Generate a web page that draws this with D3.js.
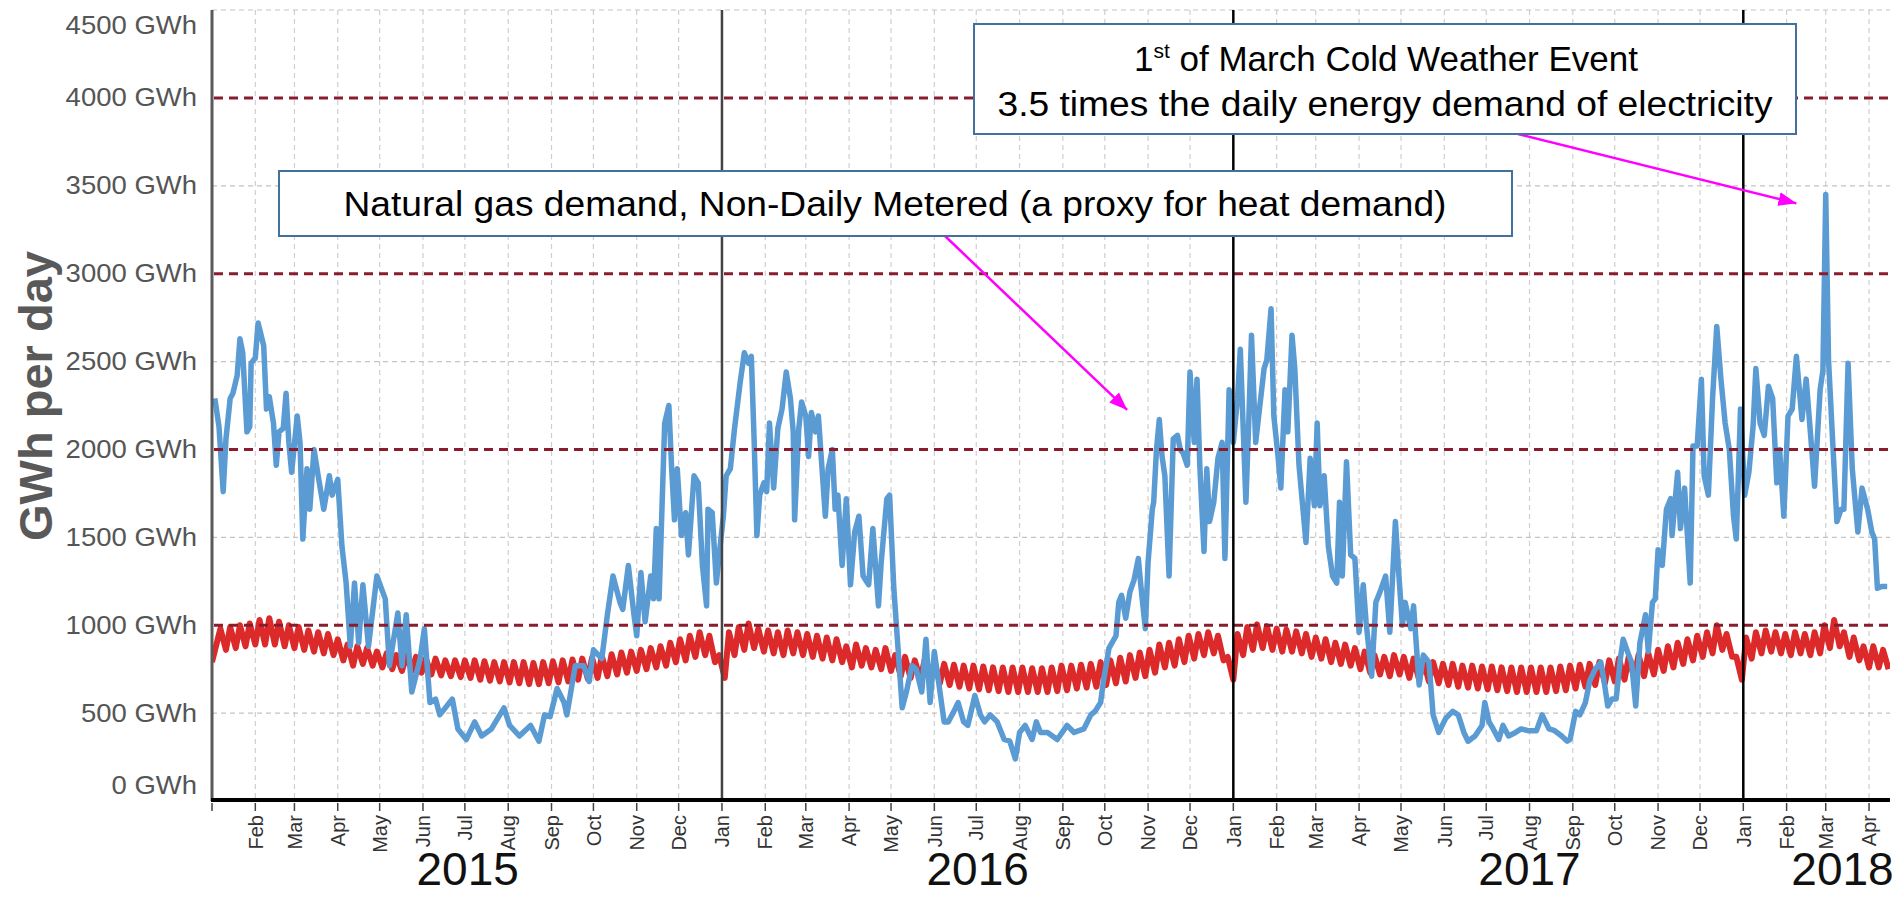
<!DOCTYPE html>
<html>
<head>
<meta charset="utf-8">
<script src="https://cdn.jsdelivr.net/npm/d3@7"></script>
<style>
  body { margin: 0; background: #fff; }
  svg { display: block; font-family: "Liberation Sans", Arial, sans-serif; }
</style>
</head>
<body>
<script>
// Natural gas NDM demand, GWh/day: [day of year (0 = 1 Jan), value]
const gas2015 = [[2,2290],[5,2130],[8,1760],[10,2060],[13,2290],[15,2320],[18,2420],[20,2630],[22,2550],[25,2100],[27,2130],[28,2490],[31,2520],[33,2720],[37,2590],[39,2230],[41,2300],[44,2150],[46,1910],[48,2100],[51,2120],[53,2320],[55,2040],[57,1870],[61,2190],[63,2040],[65,1490],[68,1890],[70,1660],[73,2000],[76,1850],[80,1660],[84,1850],[86,1740],[90,1830],[93,1450],[96,1240],[99,880],[102,1240],[105,900],[108,1230],[112,880],[118,1280],[124,1150],[127,770],[133,1070],[136,770],[139,1060],[143,620],[149,810],[152,980],[156,560],[160,580],[163,490],[167,530],[172,580],[176,410],[182,350],[188,450],[193,370],[200,410],[209,530],[213,430],[220,370],[228,430],[234,340],[238,490],[242,480],[247,640],[252,560],[254,490],[260,770],[266,770],[270,680],[273,860],[279,810],[283,1060],[287,1280],[292,1130],[294,1090],[298,1340],[302,1060],[304,940],[307,1300],[310,1020],[314,1280],[316,1150],[318,1550],[320,1150],[324,2150],[327,2250],[329,1890],[331,1600],[333,1890],[336,1510],[339,1640],[341,1400],[345,1850],[348,1810],[351,1340],[354,1110],[355,1660],[358,1640],[361,1240],[363,1400]];
const gas2016 = [[1,1620],[3,1850],[6,1890],[9,2120],[13,2380],[16,2550],[19,2490],[21,2530],[23,2060],[25,1510],[27,1740],[30,1810],[32,1760],[34,2150],[37,1780],[40,2120],[43,2230],[46,2440],[49,2290],[51,2100],[52,1600],[55,2120],[57,2270],[60,2190],[62,1960],[64,2210],[67,2100],[69,2190],[71,1960],[74,1620],[76,1890],[79,2000],[81,1660],[83,1740],[86,1340],[89,1720],[92,1230],[95,1530],[98,1620],[101,1280],[105,1230],[108,1550],[112,1110],[114,1360],[118,1720],[120,1740],[123,1210],[126,870],[129,530],[132,620],[136,770],[139,750],[143,620],[146,920],[149,560],[152,850],[155,680],[159,450],[162,450],[166,510],[169,560],[173,450],[176,430],[181,600],[185,490],[188,450],[192,490],[197,450],[202,350],[206,340],[210,240],[213,390],[217,430],[222,350],[225,450],[228,390],[233,390],[240,350],[247,430],[252,390],[259,410],[264,490],[267,510],[271,560],[273,680],[277,870],[282,940],[284,1130],[286,1170],[289,1040],[292,1190],[295,1260],[298,1380],[300,1210],[303,980],[305,1360],[308,1660],[309,1700],[311,2000],[313,2170],[315,1960],[317,1850],[320,1280],[323,2060],[326,2080],[328,2000],[330,1980],[333,1910],[335,2440],[338,2040],[340,2400],[342,1910],[345,1420],[347,1890],[349,1590],[352,1700],[355,1950],[358,2040],[360,1380],[363,2340]];
const gas2017 = [[0,2040],[3,2290],[5,2570],[9,1700],[11,2150],[13,2650],[16,2040],[19,2250],[22,2460],[24,2510],[27,2800],[29,2190],[32,1960],[34,1780],[37,2340],[39,2100],[42,2650],[44,2460],[47,1910],[52,1470],[55,1950],[58,1680],[60,2150],[62,1680],[65,1850],[68,1450],[71,1280],[74,1240],[76,1700],[78,1280],[81,1930],[84,1400],[87,1380],[90,960],[93,1230],[95,1020],[99,710],[102,1130],[105,1190],[109,1280],[112,960],[116,1590],[118,1340],[121,1000],[123,1130],[127,980],[129,1110],[133,660],[136,830],[140,790],[143,490],[147,390],[152,470],[157,510],[161,490],[165,390],[168,340],[173,370],[178,430],[180,560],[183,450],[186,410],[190,350],[193,430],[197,370],[202,390],[206,410],[211,400],[217,400],[221,490],[226,410],[230,400],[235,370],[239,340],[241,350],[245,510],[248,490],[252,560],[255,680],[259,750],[263,790],[265,700],[268,540],[271,580],[274,580],[277,810],[279,920],[283,830],[285,790],[288,540],[291,900],[295,1060],[297,850],[300,1130],[302,1150],[304,1430],[307,1340],[310,1660],[313,1720],[314,1510],[318,1870],[320,1550],[323,1780],[327,1240],[329,2020],[332,2020],[335,2400],[337,1850],[340,1740],[343,2290],[346,2700],[349,2400],[352,2150],[355,2000],[358,1620],[360,1490],[363,2230]];
const gas2018 = [[1,1740],[4,1870],[7,2130],[9,2460],[12,2150],[15,2080],[18,2360],[21,2290],[24,1810],[26,2000],[29,1620],[32,2190],[35,2230],[38,2530],[42,2170],[45,2400],[49,2000],[51,1790],[55,2340],[57,2450],[59,3450],[61,2510],[64,2040],[67,1590],[70,1660],[72,1660],[75,2490],[78,1890],[82,1530],[85,1780],[89,1660],[92,1530],[94,1490],[96,1210],[99,1220],[103,1220]];

// Electricity demand, GWh/day, one pair per week (weeks from Mon 5 Jan 2015):
// weekday level and weekend level
const elecNewYear = 790;
const elecHigh2015 = [980,990,1000,1010,1030,1040,1020,1000,990,970,960,950,920,890,880,870,850,840,830,830,820,810,810,800,800,800,800,795,790,790,790,790,785,790,795,800,805,810,815,825,835,845,850,860,870,880,900,920,940,960,940,830];
const elecLow2015 = [860,870,880,890,890,890,880,870,860,850,840,830,800,770,780,770,760,750,740,740,730,720,715,710,705,700,690,685,680,675,670,665,665,670,675,680,690,695,700,710,720,730,740,750,760,770,790,800,820,830,790,700];
const elecHigh2016 = [960,990,1010,980,970,960,970,960,950,940,930,920,880,890,870,860,870,830,820,800,800,790,780,775,770,770,765,760,760,760,760,755,755,760,770,770,775,780,790,800,815,830,845,860,890,900,920,940,950,960,940,820];
const elecLow2016 = [830,860,870,850,840,830,840,830,820,810,800,790,760,770,760,750,740,710,700,690,680,670,660,650,640,635,630,625,620,620,620,620,620,625,630,640,645,650,660,670,680,700,710,730,760,770,790,810,830,840,800,690];
const elecHigh2017 = [950,990,1005,995,980,975,965,950,930,920,900,890,870,850,830,820,830,820,810,800,790,780,780,770,770,765,765,760,760,760,760,760,760,765,770,775,780,790,800,810,820,830,840,860,880,900,920,940,960,1000,950,820];
const elecLow2017 = [830,860,870,860,850,850,840,820,810,790,780,770,750,730,720,710,720,700,690,680,670,660,650,645,640,635,630,625,620,620,620,620,625,630,640,650,660,670,680,690,700,710,720,740,760,780,800,820,840,860,820,690];
const elecHigh2018 = [930,960,970,960,950,960,950,960,1000,1030,960,930,880,880,860];
const elecLow2018 = [810,840,850,840,830,840,830,840,870,880,820,800,760,760,750];

const yTicks = [0, 500, 1000, 1500, 2000, 2500, 3000, 3500, 4000, 4500];
const redLines = [1000, 2000, 3000, 4000];
const yearLabels = [['2015', '2015-07-03'], ['2016', '2016-07-02'], ['2017', '2017-08-01'], ['2018', '2018-03-13']];
const yearLines = ['2016-01-01', '2017-01-01', '2018-01-01'];

const width = 1903;
const height = 922;
const DAY = 86400000;

let x = d3.scaleUtc()
  .domain([Date.UTC(2015, 0, 1), Date.UTC(2018, 3, 16)])
  .range([212, 1890]);
let y = d3.scaleLinear().domain([0, 4500]).range([801, 10]);

let svg = d3.select('body')
  .append('svg')
  .attr('width', width)
  .attr('height', height);

let defs = svg.append('defs');
defs.append('clipPath').attr('id', 'plot')
  .append('rect').attr('x', 212).attr('y', 0).attr('width', 1678).attr('height', 801);
defs.append('marker')
  .attr('id', 'head')
  .attr('markerUnits', 'userSpaceOnUse')
  .attr('markerWidth', 20).attr('markerHeight', 16)
  .attr('refX', 18).attr('refY', 7)
  .attr('orient', 'auto')
  .append('path').attr('d', 'M0,0L18,7L0,14Z').attr('fill', '#ff00ff');

// gridlines
let months = d3.utcMonth.range(Date.UTC(2015, 0, 1), Date.UTC(2018, 3, 16));
svg.append('g')
  .selectAll('line')
  .data(months.slice(1))
  .enter()
  .append('line')
  .attr('x1', d => x(d)).attr('x2', d => x(d))
  .attr('y1', y(4500)).attr('y2', 800)
  .attr('stroke', '#cfcfcf').attr('stroke-width', 1.2).attr('stroke-dasharray', '5,4');

svg.append('g')
  .selectAll('line')
  .data(yTicks.filter(t => t > 0 && !redLines.includes(t)))
  .enter()
  .append('line')
  .attr('x1', 212).attr('x2', 1890)
  .attr('y1', d => y(d)).attr('y2', d => y(d))
  .attr('stroke', '#c4c4c4').attr('stroke-width', 1.2).attr('stroke-dasharray', '5,4');

// series
let points = (yr, arr) => arr.map(([d, v]) => ({ date: new Date(Date.UTC(yr, 0, 1 + d)), value: v }));
let gas = [].concat(points(2015, gas2015), points(2016, gas2016), points(2017, gas2017), points(2018, gas2018));

let elecHigh = [].concat(elecHigh2015, elecHigh2016, elecHigh2017, elecHigh2018);
let elecLow = [].concat(elecLow2015, elecLow2016, elecLow2017, elecLow2018);
let firstMonday = Date.UTC(2015, 0, 5);
let elec = [{ date: new Date(Date.UTC(2015, 0, 1)), value: elecNewYear }];
elecHigh.forEach((h, i) => {
  elec.push({ date: new Date(firstMonday + (i * 7 + 2) * DAY), value: h });
  elec.push({ date: new Date(firstMonday + (i * 7 + 6) * DAY), value: elecLow[i] });
});

let line = d3.line().x(d => x(d.date)).y(d => y(d.value));
let series = svg.append('g').attr('clip-path', 'url(#plot)');

series.append('path')
  .datum(elec)
  .attr('d', line)
  .attr('fill', 'none')
  .attr('stroke', '#dc2a2a')
  .attr('stroke-width', 6)
  .attr('stroke-linejoin', 'round');

series.append('path')
  .datum(gas)
  .attr('d', line)
  .attr('fill', 'none')
  .attr('stroke', '#5a9bd4')
  .attr('stroke-width', 5.5)
  .attr('stroke-linejoin', 'round');

// dashed reference lines and year separators on top
svg.append('g')
  .selectAll('line')
  .data(redLines)
  .enter()
  .append('line')
  .attr('x1', 214).attr('x2', 1890)
  .attr('y1', d => y(d)).attr('y2', d => y(d))
  .attr('stroke', '#8b1c2e').attr('stroke-width', 3).attr('stroke-dasharray', '9,6');

svg.append('g')
  .selectAll('line')
  .data(yearLines)
  .enter()
  .append('line')
  .attr('x1', d => x(new Date(d))).attr('x2', d => x(new Date(d)))
  .attr('y1', y(4500)).attr('y2', 800)
  .attr('stroke', (d, i) => i === 0 ? '#444' : '#000')
  .attr('stroke-width', 2.5);

// axes
svg.append('line')
  .attr('x1', 212).attr('x2', 212).attr('y1', y(4500)).attr('y2', 801)
  .attr('stroke', '#5a5a5a').attr('stroke-width', 3);
svg.append('line')
  .attr('x1', 211).attr('x2', 1890).attr('y1', 800).attr('y2', 800)
  .attr('stroke', '#000').attr('stroke-width', 4);

svg.append('g')
  .selectAll('text')
  .data(yTicks)
  .enter()
  .append('text')
  .attr('transform', d => `translate(197, ${Math.min(785, Math.max(25, y(d)))}) scale(1.1, 1)`)
  .attr('text-anchor', 'end')
  .attr('dominant-baseline', 'central')
  .attr('font-size', 25)
  .attr('fill', '#555')
  .text(d => d + ' GWh');

svg.append('text')
  .attr('transform', 'translate(52, 396) rotate(-90)')
  .attr('text-anchor', 'middle')
  .attr('font-size', 47)
  .attr('font-weight', 'bold')
  .attr('fill', '#595959')
  .text('GWh per day');

let monthTick = svg.append('g')
  .selectAll('g')
  .data(months)
  .enter()
  .append('g')
  .attr('transform', d => `translate(${x(d)}, 0)`);

monthTick.append('line')
  .attr('y1', 803).attr('y2', 811)
  .attr('stroke', '#444').attr('stroke-width', 1.5);

monthTick.filter((d, i) => i > 0)
  .append('text')
  .attr('transform', 'translate(0, 815) rotate(-90)')
  .attr('text-anchor', 'end')
  .attr('dy', '0.36em')
  .attr('font-size', 20)
  .attr('fill', '#333')
  .text(d => d3.utcFormat('%b')(d));

svg.append('g')
  .selectAll('text')
  .data(yearLabels)
  .enter()
  .append('text')
  .attr('x', d => x(new Date(d[1])))
  .attr('y', 885)
  .attr('text-anchor', 'middle')
  .attr('font-size', 46)
  .attr('fill', '#111')
  .text(d => d[0]);

// annotations
let notes = svg.append('g');

notes.append('line')
  .attr('x1', 945).attr('y1', 236)
  .attr('x2', x(new Date('2016-10-17'))).attr('y2', y(2225))
  .attr('stroke', '#ff00ff').attr('stroke-width', 2.5)
  .attr('marker-end', 'url(#head)');

notes.append('line')
  .attr('x1', 1518).attr('y1', 134)
  .attr('x2', x(new Date('2018-02-08'))).attr('y2', y(3400))
  .attr('stroke', '#ff00ff').attr('stroke-width', 2.5)
  .attr('marker-end', 'url(#head)');

notes.append('rect')
  .attr('x', 279).attr('y', 171).attr('width', 1233).attr('height', 65)
  .attr('fill', '#fff').attr('stroke', '#41719c').attr('stroke-width', 2);
notes.append('text')
  .attr('x', 895).attr('y', 216)
  .attr('text-anchor', 'middle')
  .attr('font-size', 35)
  .attr('textLength', 1103)
  .attr('lengthAdjust', 'spacingAndGlyphs')
  .text('Natural gas demand, Non-Daily Metered (a proxy for heat demand)');

notes.append('rect')
  .attr('x', 974).attr('y', 24).attr('width', 822).attr('height', 110)
  .attr('fill', '#fff').attr('stroke', '#41719c').attr('stroke-width', 2);
let l1 = notes.append('text')
  .attr('x', 1386).attr('y', 71)
  .attr('text-anchor', 'middle')
  .attr('font-size', 35);
l1.append('tspan').text('1');
l1.append('tspan').attr('font-size', 21).attr('dy', -13).text('st');
l1.append('tspan').attr('dy', 13).text(' of March Cold Weather Event');
notes.append('text')
  .attr('x', 1385).attr('y', 116)
  .attr('text-anchor', 'middle')
  .attr('font-size', 35)
  .attr('textLength', 775)
  .attr('lengthAdjust', 'spacingAndGlyphs')
  .text('3.5 times the daily energy demand of electricity');
</script>
</body>
</html>
